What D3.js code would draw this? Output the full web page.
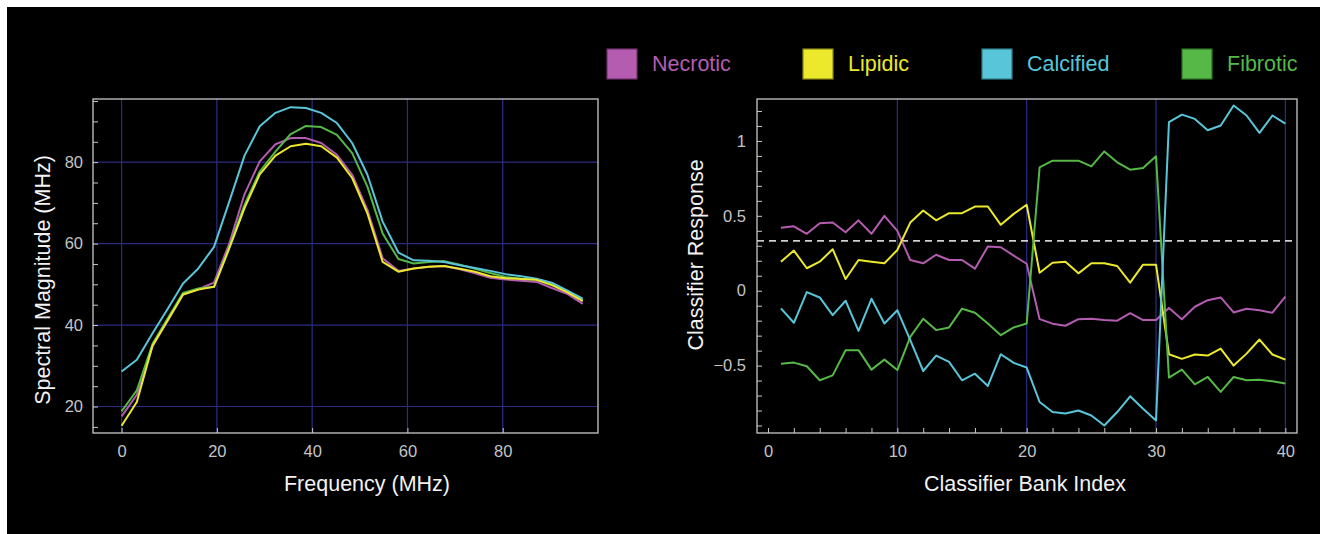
<!DOCTYPE html>
<html>
<head>
<meta charset="utf-8">
<script src="https://cdn.jsdelivr.net/npm/d3@7"></script>
<style>
	body { margin: 0; background: #fff; }
	svg { display: block; }
	.tick text { font-family: 'Liberation Sans', Arial, sans-serif; font-size: 16.5px; fill: #c4c4c4; }
	.title { font-family: 'Liberation Sans', Arial, sans-serif; font-size: 21.5px; fill: #f2f2f2; }
	.legendText { font-family: 'Liberation Sans', Arial, sans-serif; font-size: 21.5px; }
</style>
</head>
<body>
<svg id="chart" width="1320" height="534"></svg>
<script>

/*data*/
const tissues = ['Necrotic', 'Lipidic', 'Calcified', 'Fibrotic'];

// left panel: spectra
const frequency = [0, 3.2, 6.5, 9.7, 12.9, 16.1, 19.4, 22.6, 25.8, 29.0, 32.3, 35.5, 38.7, 41.9, 45.2, 48.4,
	51.6, 54.8, 58.1, 61.3, 64.5, 67.7, 71.0, 74.2, 77.4, 80.6, 83.9, 87.1, 90.3, 93.5, 96.8];

const necroticSpectrum = [17.6, 22.9, 34.8, 41.2, 47.5, 48.8, 50.4, 60.0, 72.1, 80.2, 84.4, 85.9, 85.9, 84.7, 81.8, 76.9,
	68.3, 56.4, 53.3, 53.9, 54.3, 54.5, 53.7, 52.7, 51.6, 51.2, 50.9, 50.6, 49.1, 47.7, 45.2];
const lipidicSpectrum = [15.3, 21.1, 35.0, 41.2, 47.5, 48.7, 49.4, 58.8, 68.7, 77.0, 81.6, 83.9, 84.5, 83.9, 81.1, 76.1,
	67.4, 55.5, 53.1, 53.9, 54.3, 54.5, 53.8, 53.1, 52.0, 51.5, 51.3, 51.1, 49.8, 48.1, 45.9];
const calcifiedSpectrum = [28.6, 31.5, 38.0, 44.0, 50.2, 53.9, 59.2, 70.3, 81.6, 88.8, 92.1, 93.5, 93.3, 92.1, 89.6, 84.7,
	76.9, 65.4, 57.8, 55.9, 55.8, 55.5, 54.7, 54.0, 53.3, 52.5, 52.0, 51.4, 50.4, 48.5, 46.5];
const fibroticSpectrum = [18.8, 24.0, 35.4, 41.7, 47.9, 49.0, 49.4, 59.2, 69.5, 77.7, 82.6, 86.9, 88.9, 88.6, 86.7, 82.2,
	74.0, 62.5, 56.2, 55.1, 55.5, 55.7, 54.8, 53.8, 52.8, 51.8, 51.4, 51.2, 50.0, 48.3, 46.1];

const frequencyTicks = [0, 20, 40, 60, 80];
const magnitudeTicks = [20, 40, 60, 80];
const magnitudeMinor = [15, 20, 25, 30, 35, 40, 45, 50, 55, 60, 65, 70, 75, 80, 85, 90, 95];

// right panel: classifier bank
const bankIndex = [1, 2, 3, 4, 5, 6, 7, 8, 9, 10, 11, 12, 13, 14, 15, 16, 17, 18, 19, 20,
	21, 22, 23, 24, 25, 26, 27, 28, 29, 30, 31, 32, 33, 34, 35, 36, 37, 38, 39, 40];

const necroticResponse = [0.42, 0.43, 0.38, 0.45, 0.455, 0.39, 0.47, 0.38, 0.50, 0.40,
	0.205, 0.183, 0.24, 0.205, 0.205, 0.147, 0.295, 0.29, 0.234, 0.18,
	-0.19, -0.22, -0.234, -0.19, -0.187, -0.196, -0.2, -0.15, -0.196, -0.196,
	-0.116, -0.19, -0.107, -0.063, -0.045, -0.145, -0.12, -0.13, -0.147, -0.04];
const lipidicResponse = [0.194, 0.268, 0.15, 0.194, 0.277, 0.078, 0.205, 0.194, 0.183, 0.272,
	0.455, 0.536, 0.47, 0.518, 0.518, 0.562, 0.562, 0.44, 0.513, 0.574,
	0.12, 0.187, 0.194, 0.116, 0.183, 0.183, 0.165, 0.054, 0.174, 0.174,
	-0.424, -0.455, -0.426, -0.433, -0.386, -0.5, -0.42, -0.326, -0.426, -0.46];
const calcifiedResponse = [-0.118, -0.214, -0.009, -0.045, -0.163, -0.067, -0.268, -0.054, -0.219, -0.13,
	-0.33, -0.536, -0.433, -0.475, -0.598, -0.554, -0.636, -0.424, -0.482, -0.513,
	-0.743, -0.81, -0.82, -0.8, -0.833, -0.9, -0.81, -0.705, -0.788, -0.866,
	1.125, 1.176, 1.147, 1.071, 1.103, 1.237, 1.17, 1.054, 1.17, 1.116];
const fibroticResponse = [-0.487, -0.48, -0.504, -0.598, -0.565, -0.397, -0.397, -0.527, -0.46, -0.53,
	-0.308, -0.187, -0.263, -0.245, -0.12, -0.147, -0.219, -0.297, -0.245, -0.219,
	0.824, 0.868, 0.868, 0.868, 0.83, 0.93, 0.857, 0.808, 0.82, 0.897,
	-0.58, -0.527, -0.625, -0.576, -0.676, -0.576, -0.598, -0.594, -0.605, -0.62];

const bankTicks = [0, 10, 20, 30, 40];
const bankMinor = [0, 2, 4, 6, 8, 10, 12, 14, 16, 18, 20, 22, 24, 26, 28, 30, 32, 34, 36, 38, 40];
const responseTicks = [-0.5, 0, 0.5, 1];
const responseMinor = [-0.9, -0.8, -0.7, -0.6, -0.5, -0.4, -0.3, -0.2, -0.1, 0, 0.1, 0.2, 0.3, 0.4, 0.5, 0.6, 0.7, 0.8, 0.9, 1, 1.1, 1.2];
const threshold = 0.333;

/*styles*/
const colors = {
	Necrotic: '#b35cb0',
	Lipidic: '#ece82c',
	Calcified: '#58c6d8',
	Fibrotic: '#56b846'
};
const borders = {
	Necrotic: '#6e2f6c',
	Lipidic: '#8a861a',
	Calcified: '#2f7c88',
	Fibrotic: '#2f6e27'
};
const gridColor = '#2c2b84';
const frameColor = '#c8c8c8';

const svg = d3.select('#chart');

svg.append('rect')
	.attr('x', 7)
	.attr('y', 7)
	.attr('width', 1313)
	.attr('height', 527)
	.attr('fill', '#000');

const fmt = (d)=>{
	return d < 0 ? `\u2212${Math.abs(d)}` : `${d}`
}

/*left panel*/
const xL = d3.scaleLinear().domain([-6, 100]).range([93, 598]);
const yL = d3.scaleLinear().domain([13.5, 95.5]).range([433, 99]);

const left = svg.append('g');

left.selectAll('.vgrid')
	.data(frequencyTicks)
	.enter()
	.append('line')
	.attr('x1', d => xL(d))
	.attr('x2', d => xL(d))
	.attr('y1', 99)
	.attr('y2', 433)
	.attr('stroke', gridColor)
	.attr('stroke-width', 1.2);

left.selectAll('.hgrid')
	.data(magnitudeTicks)
	.enter()
	.append('line')
	.attr('x1', 93)
	.attr('x2', 598)
	.attr('y1', d => yL(d))
	.attr('y2', d => yL(d))
	.attr('stroke', gridColor)
	.attr('stroke-width', 1.2);

const spectra = [necroticSpectrum, lipidicSpectrum, calcifiedSpectrum, fibroticSpectrum];
const lineL = d3.line()
	.x((d, i) => xL(frequency[i]))
	.y(d => yL(d));

// draw order so yellow sits over magenta, as in the picture
[0, 3, 2, 1].forEach(k=>{
	left.append('path')
		.datum(spectra[k])
		.attr('d', lineL)
		.attr('fill', 'none')
		.attr('stroke', colors[tissues[k]])
		.attr('stroke-width', 2)
		.attr('stroke-linejoin', 'round');
});

left.append('g')
	.attr('transform', 'translate(93,0)')
	.call(d3.axisLeft(yL).tickValues(magnitudeMinor).tickSize(-5).tickFormat(''))
	.call(g => g.select('.domain').remove())
	.selectAll('line').attr('stroke', frameColor);

left.append('g')
	.attr('transform', 'translate(93,0)')
	.call(d3.axisLeft(yL).tickValues(magnitudeTicks).tickSize(0).tickPadding(10))
	.call(g => g.select('.domain').remove());

left.append('g')
	.attr('transform', 'translate(0,433)')
	.call(d3.axisBottom(xL).tickValues(frequencyTicks).tickSize(-5).tickPadding(12))
	.call(g => g.select('.domain').remove())
	.selectAll('line').attr('stroke', frameColor);

left.append('rect')
	.attr('x', 93)
	.attr('y', 99)
	.attr('width', 505)
	.attr('height', 334)
	.attr('fill', 'none')
	.attr('stroke', frameColor)
	.attr('stroke-width', 1.3);

left.append('text')
	.classed('title', true)
	.attr('x', 367)
	.attr('y', 491)
	.attr('text-anchor', 'middle')
	.text('Frequency (MHz)');

left.append('text')
	.classed('title', true)
	.attr('transform', 'translate(50,280) rotate(-90)')
	.attr('text-anchor', 'middle')
	.text('Spectral Magnitude (MHz)');

/*right panel*/
const xR = d3.scaleLinear().domain([-0.85, 40.9]).range([757, 1297]);
const yR = d3.scaleLinear().domain([-0.95, 1.28]).range([433, 99]);

const right = svg.append('g');

right.selectAll('.vgrid')
	.data(bankTicks.filter(d => d > 0))
	.enter()
	.append('line')
	.attr('x1', d => xR(d))
	.attr('x2', d => xR(d))
	.attr('y1', 99)
	.attr('y2', 433)
	.attr('stroke', gridColor)
	.attr('stroke-width', 1.2);

right.append('line')
	.attr('x1', 757)
	.attr('x2', 1297)
	.attr('y1', yR(threshold))
	.attr('y2', yR(threshold))
	.attr('stroke', '#d0d0d0')
	.attr('stroke-width', 1.6)
	.attr('stroke-dasharray', '7,5');

const responses = [necroticResponse, lipidicResponse, calcifiedResponse, fibroticResponse];
const lineR = d3.line()
	.x((d, i) => xR(bankIndex[i]))
	.y(d => yR(d));

[0, 1, 3, 2].forEach(k=>{
	right.append('path')
		.datum(responses[k])
		.attr('d', lineR)
		.attr('fill', 'none')
		.attr('stroke', colors[tissues[k]])
		.attr('stroke-width', 2)
		.attr('stroke-linejoin', 'round');
});

right.append('g')
	.attr('transform', 'translate(757,0)')
	.call(d3.axisLeft(yR).tickValues(responseMinor).tickSize(-5).tickFormat(''))
	.call(g => g.select('.domain').remove())
	.selectAll('line').attr('stroke', frameColor);

right.append('g')
	.attr('transform', 'translate(757,0)')
	.call(d3.axisLeft(yR).tickValues(responseTicks).tickSize(0).tickPadding(11).tickFormat(fmt))
	.call(g => g.select('.domain').remove());

right.append('g')
	.attr('transform', 'translate(0,433)')
	.call(d3.axisBottom(xR).tickValues(bankMinor).tickSize(-5).tickFormat(''))
	.call(g => g.select('.domain').remove())
	.selectAll('line').attr('stroke', frameColor);

right.append('g')
	.attr('transform', 'translate(0,433)')
	.call(d3.axisBottom(xR).tickValues(bankTicks).tickSize(0).tickPadding(12))
	.call(g => g.select('.domain').remove());

right.append('rect')
	.attr('x', 757)
	.attr('y', 99)
	.attr('width', 540)
	.attr('height', 334)
	.attr('fill', 'none')
	.attr('stroke', frameColor)
	.attr('stroke-width', 1.3);

right.append('text')
	.classed('title', true)
	.attr('x', 1025)
	.attr('y', 491)
	.attr('text-anchor', 'middle')
	.text('Classifier Bank Index');

right.append('text')
	.classed('title', true)
	.attr('transform', 'translate(703,255) rotate(-90)')
	.attr('text-anchor', 'middle')
	.text('Classifier Response');

/*legend*/
const legendX = [607, 803, 982, 1182];

const legend = svg.selectAll('.legend')
	.data(tissues)
	.enter()
	.append('g')
	.classed('legend', true)
	.attr('transform', (d, i) => `translate(${legendX[i]},49)`);

legend.append('rect')
	.attr('width', 30)
	.attr('height', 30)
	.attr('fill', d => colors[d])
	.attr('stroke', d => borders[d])
	.attr('stroke-width', 1.2);

legend.append('text')
	.classed('legendText', true)
	.attr('x', 45)
	.attr('y', 22)
	.attr('fill', d => colors[d])
	.text(d => d);

</script>
</body>
</html>
